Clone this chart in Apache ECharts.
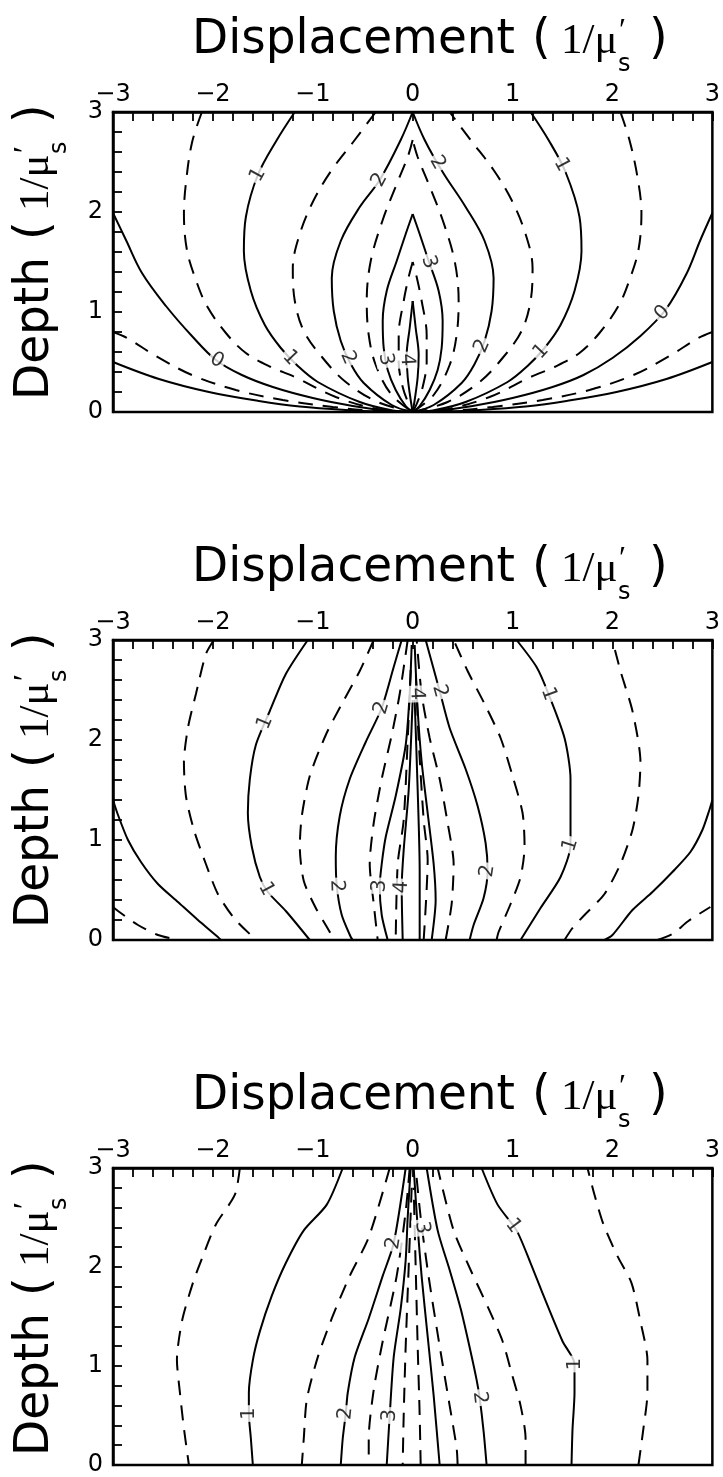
<!DOCTYPE html>
<html><head><meta charset="utf-8">
<script src="https://cdn.jsdelivr.net/npm/echarts@6/dist/echarts.min.js"></script>
<style>html,body{margin:0;padding:0;background:#fff}#c{width:723px;height:1477px}</style>
</head><body><div id="c"></div>
<script>
// ---------- tick labels ----------
const X_TICKS = [-3, -2, -1, 0, 1, 2, 3];
const Y_TICKS = [0, 1, 2, 3];
const TITLE_WORD = 'Displacement';
const YLABEL_WORD = 'Depth';

// ---------- Panel 1 contours (solid = integer levels, dashed = half levels) ----------
const P1_A_L = [[-3,0.50],[-2.54,0.33],[-2.04,0.20],[-1.54,0.11],[-1.13,0.055],[-0.67,0.02],[-0.3,0.004],[0,0]];
const P1_A_R = [[0,0],[0.3,0.004],[0.67,0.02],[1.13,0.055],[1.54,0.11],[2.04,0.20],[2.54,0.33],[3,0.50]];
const P1_B_L = [[-3,0.80],[-2.86,0.74],[-2.57,0.56],[-2.21,0.37],[-1.77,0.22],[-1.3,0.12],[-0.8,0.05],[-0.4,0.013],[0,0]];
const P1_B_R = [[0,0],[0.4,0.013],[0.8,0.05],[1.3,0.12],[1.77,0.22],[2.21,0.37],[2.57,0.56],[2.86,0.74],[3,0.80]];
const P1_C_L = [[-3,1.99],[-2.87,1.72],[-2.71,1.39],[-2.47,1.06],[-2.21,0.76],[-1.97,0.52],[-1.71,0.37],[-1.4,0.25],[-1.0,0.14],[-0.6,0.06],[-0.25,0.013],[0,0]];
const P1_C_R = [[0,0],[0.25,0.013],[0.6,0.06],[1.0,0.14],[1.4,0.25],[1.71,0.37],[2.0,0.54],[2.28,0.76],[2.53,1.02],[2.74,1.38],[2.88,1.72],[3,1.99]];
const P1_D_L = [[-2.11,3],[-2.21,2.69],[-2.27,2.29],[-2.29,1.99],[-2.26,1.62],[-2.17,1.32],[-2.06,1.06],[-1.87,0.79],[-1.67,0.59],[-1.42,0.45],[-1.18,0.35],[-0.77,0.15],[-0.35,0.03],[0,0]];
const P1_D_R = [[0,0],[0.35,0.03],[0.77,0.15],[1.18,0.35],[1.42,0.45],[1.67,0.59],[1.87,0.79],[2.06,1.06],[2.17,1.32],[2.26,1.62],[2.29,1.99],[2.25,2.35],[2.17,2.72],[2.08,3]];
const P1_E_L = [[-1.18,3],[-1.36,2.72],[-1.55,2.37],[-1.67,1.95],[-1.69,1.61],[-1.62,1.21],[-1.48,0.87],[-1.32,0.64],[-1.15,0.46],[-0.95,0.30],[-0.53,0.10],[-0.2,0.015],[0,0]];
const P1_E_R = [[0,0],[0.2,0.015],[0.53,0.10],[0.95,0.30],[1.15,0.46],[1.32,0.64],[1.48,0.87],[1.62,1.21],[1.69,1.61],[1.67,1.95],[1.53,2.40],[1.36,2.72],[1.18,3]];
const P1_F_L = [[-0.37,3],[-0.58,2.72],[-0.81,2.42],[-0.99,2.12],[-1.13,1.78],[-1.20,1.44],[-1.18,1.11],[-1.09,0.81],[-0.90,0.54],[-0.67,0.30],[-0.35,0.10],[0,0]];
const P1_F_R = [[0,0],[0.35,0.10],[0.67,0.30],[0.90,0.54],[1.09,0.81],[1.18,1.11],[1.20,1.44],[1.13,1.78],[0.99,2.12],[0.81,2.42],[0.58,2.72],[0.37,3]];
const P1_G_L = [[0,3],[-0.12,2.72],[-0.33,2.32],[-0.53,2.05],[-0.72,1.71],[-0.81,1.34],[-0.79,1.01],[-0.72,0.71],[-0.62,0.48],[-0.49,0.29],[-0.21,0.07],[0,0]];
const P1_G_R = [[0,0],[0.21,0.07],[0.49,0.29],[0.62,0.48],[0.72,0.71],[0.79,1.01],[0.81,1.34],[0.72,1.71],[0.53,2.05],[0.30,2.40],[0.12,2.72],[0,3]];
const P1_H_L = [[0,2.72],[-0.05,2.55],[-0.16,2.28],[-0.30,1.92],[-0.42,1.51],[-0.46,1.11],[-0.44,0.77],[-0.37,0.47],[-0.21,0.17],[0,0]];
const P1_H_R = [[0,0],[0.21,0.17],[0.37,0.47],[0.44,0.77],[0.46,1.11],[0.42,1.51],[0.30,1.92],[0.16,2.28],[0.05,2.55],[0,2.72]];
const P1_I_L = [[0,1.98],[-0.07,1.78],[-0.16,1.51],[-0.26,1.21],[-0.30,0.91],[-0.29,0.64],[-0.25,0.42],[-0.17,0.22],[-0.07,0.06],[0,0]];
const P1_I_R = [[0,0],[0.07,0.06],[0.17,0.22],[0.25,0.42],[0.29,0.64],[0.30,0.91],[0.26,1.21],[0.16,1.51],[0.07,1.78],[0,1.98]];
const P1_J_L = [[0,1.5],[-0.04,1.35],[-0.09,1.11],[-0.14,0.77],[-0.14,0.50],[-0.10,0.25],[-0.04,0.08],[0,0]];
const P1_J_R = [[0,0],[0.04,0.08],[0.10,0.25],[0.14,0.50],[0.14,0.77],[0.09,1.11],[0.04,1.35],[0,1.5]];
const P1_K_L = [[0,1.11],[-0.03,0.84],[-0.06,0.57],[-0.05,0.35],[-0.02,0.12],[0,0]];
const P1_K_R = [[0,0],[0.02,0.12],[0.05,0.35],[0.06,0.57],[0.03,0.84],[0,1.11]];
const P1_SOLID = [P1_A_L,P1_A_R,P1_C_L,P1_C_R,P1_E_L,P1_E_R,P1_G_L,P1_G_R,P1_I_L,P1_I_R,P1_K_L,P1_K_R];
const P1_DASHED = [P1_B_L,P1_B_R,P1_D_L,P1_D_R,P1_F_L,P1_F_R,P1_H_L,P1_H_R,P1_J_L,P1_J_R];
const P1_LABELS = [['0',-1.97,0.50],['0',2.52,0.97],['1',-1.55,2.37],['1',-1.25,0.52],['1',1.45,2.45],['1',1.29,0.60],
  ['2',-0.33,2.32],['2',-0.70,0.52],['2',0.21,2.47],['2',0.74,0.64],['3',-0.30,0.52],['3',0.11,1.48],['4',-0.07,0.52]];

// ---------- Panel 2 contours ----------
const P2_S0_L = [[-3,1.40],[-2.95,1.25],[-2.85,1.0],[-2.72,0.78],[-2.55,0.56],[-2.35,0.38],[-2.15,0.2],[-1.95,0.03],[-1.92,0]];
const P2_S0_R = [[1.92,0],[2.0,0.05],[2.2,0.3],[2.4,0.48],[2.6,0.68],[2.78,0.88],[2.9,1.1],[2.97,1.3],[3,1.40]];
const P2_DM_L = [[-3,0.33],[-2.95,0.29],[-2.75,0.15],[-2.55,0.05],[-2.35,0]];
const P2_DM_R = [[2.45,0],[2.6,0.06],[2.76,0.19],[2.98,0.33]];
const P2_D0_L = [[-1.99,3],[-2.07,2.86],[-2.17,2.46],[-2.25,2.12],[-2.29,1.78],[-2.27,1.44],[-2.19,1.10],[-2.07,0.76],[-1.95,0.46],[-1.79,0.22],[-1.62,0.05],[-1.55,0]];
const P2_D0_R = [[1.52,0],[1.60,0.12],[1.72,0.25],[1.92,0.46],[2.08,0.76],[2.20,1.10],[2.26,1.44],[2.28,1.78],[2.20,2.29],[2.08,2.69],[2.0,3]];
const P2_S1_L = [[-1.05,3],[-1.27,2.66],[-1.43,2.29],[-1.57,1.95],[-1.63,1.61],[-1.65,1.27],[-1.61,0.93],[-1.53,0.63],[-1.45,0.48],[-1.27,0.29],[-1.03,0]];
const P2_S1_R = [[1.08,0],[1.28,0.32],[1.48,0.63],[1.58,0.95],[1.58,1.27],[1.58,1.61],[1.52,2.02],[1.36,2.46],[1.24,2.73],[1.04,3]];
const P2_D1_L = [[-0.39,3],[-0.53,2.69],[-0.71,2.36],[-0.87,2.05],[-1.03,1.64],[-1.11,1.24],[-1.13,0.93],[-1.09,0.59],[-0.97,0.32],[-0.83,0.08],[-0.80,0]];
const P2_D1_R = [[0.84,0],[0.86,0.08],[0.98,0.36],[1.08,0.63],[1.12,0.93],[1.10,1.27],[1.00,1.64],[0.88,2.02],[0.72,2.36],[0.55,2.69],[0.41,3]];
const P2_S2_L = [[-0.11,3],[-0.19,2.73],[-0.31,2.32],[-0.47,1.98],[-0.63,1.61],[-0.73,1.24],[-0.77,0.83],[-0.76,0.54],[-0.71,0.25],[-0.62,0.03],[-0.60,0]];
const P2_S2_R = [[0.57,0],[0.61,0.15],[0.71,0.42],[0.75,0.69],[0.73,0.97],[0.65,1.34],[0.53,1.71],[0.37,2.12],[0.27,2.49],[0.13,3]];
const P2_D2_L = [[-0.05,3],[-0.13,2.46],[-0.21,2.05],[-0.31,1.61],[-0.39,1.17],[-0.43,0.76],[-0.39,0.36],[-0.35,0]];
const P2_D2_R = [[0.33,0],[0.39,0.36],[0.41,0.76],[0.35,1.17],[0.27,1.61],[0.17,2.02],[0.09,2.46],[0.04,3]];
const P2_S3_L = [[-0.01,2.95],[-0.03,2.46],[-0.07,1.95],[-0.17,1.44],[-0.27,1.03],[-0.31,0.76],[-0.33,0.54],[-0.31,0.25],[-0.25,0]];
const P2_S3_R = [[0.19,0],[0.23,0.4],[0.21,0.76],[0.15,1.27],[0.09,1.78],[0.05,2.3],[0.02,2.95]];
const P2_D3_L = [[-0.02,2.7],[-0.05,2.0],[-0.09,1.2],[-0.15,0.76],[-0.17,0]];
const P2_D3_R = [[0.11,0],[0.15,0.8],[0.11,1.2],[0.06,2.0],[0.03,2.7]];
const P2_S4_L = [[0,2.4],[-0.04,1.5],[-0.09,0.9],[-0.11,0.53],[-0.10,0]];
const P2_S4_R = [[0.07,0],[0.07,0.7],[0.05,1.5],[0.02,2.4]];
const P2_SOLID = [P2_S0_L,P2_S0_R,P2_S1_L,P2_S1_R,P2_S2_L,P2_S2_R,P2_S3_L,P2_S3_R,P2_S4_L,P2_S4_R];
const P2_DASHED = [P2_DM_L,P2_DM_R,P2_D0_L,P2_D0_R,P2_D1_L,P2_D1_R,P2_D2_L,P2_D2_R,P2_D3_L,P2_D3_R];
const P2_LABELS = [['1',-1.47,2.17],['1',-1.47,0.51],['1',1.36,2.46],['1',1.58,0.95],['2',-0.31,2.32],['2',-0.76,0.54],
  ['2',0.27,2.49],['2',0.75,0.69],['3',-0.33,0.54],['4',-0.11,0.53],['4',0.03,2.46]];

// ---------- Panel 3 contours ----------
const P3_D0_L = [[-1.73,3],[-1.78,2.73],[-1.97,2.43],[-2.10,2.11],[-2.20,1.84],[-2.31,1.45],[-2.36,1.06],[-2.33,0.73],[-2.29,0.37],[-2.24,0]];
const P3_D0_R = [[2.26,0],[2.31,0.37],[2.35,0.73],[2.35,1.06],[2.28,1.45],[2.19,1.84],[2.05,2.11],[1.91,2.43],[1.82,2.73],[1.75,3]];
const P3_S1_L = [[-0.70,3],[-0.86,2.63],[-1.09,2.37],[-1.27,2.04],[-1.41,1.71],[-1.53,1.35],[-1.60,1.06],[-1.64,0.73],[-1.64,0.52],[-1.62,0.27],[-1.60,0]];
const P3_S1_R = [[1.59,0],[1.60,0.36],[1.62,0.73],[1.62,1.02],[1.50,1.25],[1.31,1.71],[1.18,2.04],[1.04,2.37],[0.85,2.63],[0.69,3]];
const P3_D1_L = [[-0.23,3],[-0.44,2.30],[-0.63,1.91],[-0.81,1.48],[-0.95,1.09],[-1.06,0.66],[-1.09,0.27],[-1.11,0]];
const P3_D1_R = [[1.13,0],[1.13,0.27],[1.08,0.60],[0.99,0.93],[0.90,1.25],[0.76,1.58],[0.58,1.97],[0.41,2.37],[0.25,3]];
const P3_S2_L = [[-0.07,3],[-0.19,2.24],[-0.30,1.91],[-0.44,1.48],[-0.58,1.09],[-0.65,0.73],[-0.67,0.52],[-0.70,0.27],[-0.72,0]];
const P3_S2_R = [[0.74,0],[0.71,0.34],[0.67,0.68],[0.64,0.86],[0.57,1.19],[0.48,1.58],[0.37,1.97],[0.25,2.37],[0.14,3]];
const P3_D2_L = [[-0.03,3],[-0.07,2.56],[-0.16,1.91],[-0.30,1.25],[-0.39,0.76],[-0.44,0.27],[-0.44,0]];
const P3_D2_R = [[0.45,0],[0.44,0.17],[0.37,0.60],[0.27,1.20],[0.16,1.90],[0.08,2.50],[0.03,3]];
const P3_S3_L = [[-0.02,3],[-0.05,2.5],[-0.07,2.07],[-0.12,1.58],[-0.19,1.09],[-0.23,0.50],[-0.26,0]];
const P3_S3_R = [[0.27,0],[0.21,0.70],[0.15,1.30],[0.09,1.90],[0.05,2.40],[0.01,3]];
const P3_D3_L = [[-0.01,2.8],[-0.04,2.0],[-0.07,1.2],[-0.09,0.5],[-0.10,0]];
const P3_D3_R = [[0.08,0],[0.07,0.5],[0.05,1.2],[0.03,2.0],[0.01,2.8]];
const P3_SOLID = [P3_S1_L,P3_S1_R,P3_S2_L,P3_S2_R,P3_S3_L,P3_S3_R];
const P3_DASHED = [P3_D0_L,P3_D0_R,P3_D1_L,P3_D1_R,P3_D2_L,P3_D2_R,P3_D3_L,P3_D3_R];
const P3_LABELS = [['1',-1.64,0.52],['1',1.64,1.02],['1',1.01,2.42],['2',-0.19,2.24],['2',-0.67,0.52],['2',0.67,0.68],
  ['3',-0.23,0.50],['3',0.11,2.40]];

// ---------- layout / style ----------
const SANS = '"DejaVu Sans", sans-serif';
const SERIF = '"Liberation Serif", "DejaVu Serif", serif';
const PANELS = [
  {top:112, solid:P1_SOLID, dashed:P1_DASHED, labels:P1_LABELS, smooth:0.35},
  {top:640, solid:P2_SOLID, dashed:P2_DASHED, labels:P2_LABELS, smooth:0.25},
  {top:1168, solid:P3_SOLID, dashed:P3_DASHED, labels:P3_LABELS, smooth:0.25}
];
const GL = 113, GW = 600, GH = 300;

const ctx = document.createElement('canvas').getContext('2d');
function measure(t, size, fam){ ctx.font = size + 'px ' + fam; return ctx.measureText(t).width; }

function snapLabel(lab, polys){
  let best = null;
  for (const pl of polys) for (let i = 0; i < pl.length - 1; i++) {
    const [x1,y1] = pl[i], [x2,y2] = pl[i+1];
    const dx = x2-x1, dy = y2-y1, L = dx*dx+dy*dy;
    let t = L ? ((lab[1]-x1)*dx + (lab[2]-y1)*dy)/L : 0;
    t = Math.max(0, Math.min(1, t));
    const px = x1+t*dx, py = y1+t*dy, d = (px-lab[1])**2 + (py-lab[2])**2;
    if (!best || d < best.d) best = {d, px, py, dx, dy};
  }
  let ang = Math.atan2(best.dy, best.dx) * 180 / Math.PI;
  if (ang > 90) ang -= 180;
  if (ang <= -90) ang += 180;
  return {value:[best.px, best.py], label:{rotate:ang}, t:lab[0]};
}

const grid = [], xAxis = [], yAxis = [], series = [];
const axisCommon = {
  axisLine:{show:true, onZero:false, lineStyle:{color:'#000', width:2.5}},
  axisTick:{show:true, inside:true, length:9, lineStyle:{color:'#000', width:1.8}},
  minorTick:{show:true, splitNumber:5, length:9, lineStyle:{color:'#000', width:1.8}},
  splitLine:{show:false}, minorSplitLine:{show:false}
};
PANELS.forEach((p, i) => {
  grid.push({left:GL, top:p.top, width:GW, height:GH, show:true, borderColor:'#000', borderWidth:2.5, backgroundColor:'rgba(0,0,0,0)'});
  xAxis.push(Object.assign({gridIndex:i, type:'value', position:'top', min:X_TICKS[0], max:X_TICKS[X_TICKS.length-1], interval:1,
    axisLabel:{color:'#000', fontSize:24, fontFamily:SANS, margin:5, formatter:v => String(v).replace('-', '\u2212')}}, axisCommon));
  yAxis.push(Object.assign({gridIndex:i, type:'value', position:'left', min:Y_TICKS[0], max:Y_TICKS[Y_TICKS.length-1], interval:1,
    axisLabel:{color:'#000', fontSize:24, fontFamily:SANS, margin:10}}, axisCommon));
  const addLines = (arrs, dashed) => arrs.forEach(a => series.push({
    type:'line', xAxisIndex:i, yAxisIndex:i, data:a, symbol:'none', showSymbol:false, smooth:p.smooth,
    silent:true, clip:true, z:2,
    lineStyle:{color:'#000', width:2, type: dashed ? [15, 10] : 'solid', cap:'butt'}
  }));
  addLines(p.solid, false);
  addLines(p.dashed, true);
  const all = p.solid.concat(p.dashed);
  series.push({
    type:'scatter', xAxisIndex:i, yAxisIndex:i, z:5, silent:true, symbolSize:1,
    itemStyle:{color:'rgba(0,0,0,0)'},
    data:p.labels.map(l => snapLabel(l, all)),
    label:{show:true, position:'inside', formatter:q => q.data.t, color:'#000', fontSize:20, fontFamily:SANS,
      backgroundColor:'#fff', padding:[0,2]}
  });
});

// ---------- axis titles (graphic text) ----------
function titleParts(word, wordWidth){
  const fs = 48;
  const sx = wordWidth / measure(word, fs, SANS);
  const E = wordWidth;
  const t = (text, x, base, size, fam, scale) => ({
    type:'text', x:x, y:base - 0.30*size, scaleX:scale || 1,
    style:{text:text, font:size + 'px ' + fam, fill:'#000', align:'left', textAlign:'left', verticalAlign:'middle', textVerticalAlign:'middle'}
  });
  return [
    t(word, 0, 0, fs, SANS, sx),
    t('(', E + 17, 0, fs, SANS),
    t('1/\u03bc', E + 46, 0, 43, SERIF),
    t('s', E + 103, 17, 24, SANS),
    t('\u2032', E + 104, -14, 32, SERIF),
    t(')', E + 134, 0, fs, SANS)
  ];
}
const graphic = [];
PANELS.forEach(p => {
  graphic.push({type:'group', x:192, y:p.top - 57, children:titleParts(TITLE_WORD, 323)});
  graphic.push({type:'group', x:50, y:p.top + GH - 12, rotation:Math.PI/2, children:titleParts(YLABEL_WORD, 143)});
});

const chart = echarts.init(document.getElementById('c'), null, {renderer:'canvas'});
chart.setOption({animation:false, backgroundColor:'#fff', grid, xAxis, yAxis, series, graphic});
</script></body></html>
